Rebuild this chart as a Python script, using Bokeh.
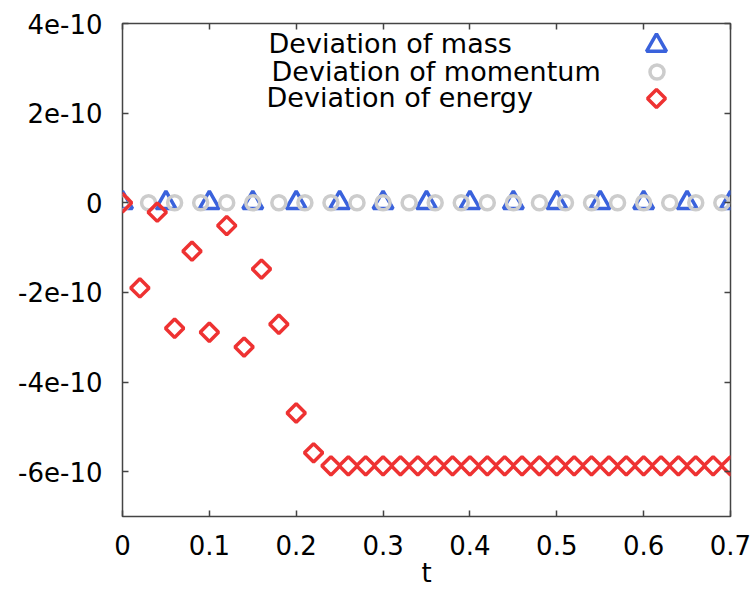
import math
from bokeh.plotting import figure
from bokeh.models import (FixedTicker, LinearAxis, Label, Legend, LegendItem,
                          CustomJSTickFormatter, Range1d, ColumnDataSource,
                          PolyAnnotation)
from bokeh.embed import file_html
from bokeh.resources import INLINE

# ---- data ----
t_mass = [0.0, 0.05, 0.10, 0.15, 0.20, 0.25, 0.30, 0.35, 0.40, 0.45, 0.50,
          0.55, 0.60, 0.65, 0.70]
dev_mass = [0.0, 0.0, 0.0, 0.0, 0.0, 0.0, 0.0, 0.0, 0.0, 0.0,
            0.0, 0.0, 0.0, 0.0, 0.0]

t_mom = [0.0, 0.03, 0.06, 0.09, 0.12, 0.15, 0.18, 0.21, 0.24, 0.27, 0.30,
         0.33, 0.36, 0.39, 0.42, 0.45, 0.48, 0.51, 0.54, 0.57, 0.60, 0.63,
         0.66, 0.69]
dev_mom = [0.0, 0.0, 0.0, 0.0, 0.0, 0.0, 0.0, 0.0, 0.0, 0.0, 0.0, 0.0,
           0.0, 0.0, 0.0, 0.0, 0.0, 0.0, 0.0, 0.0, 0.0, 0.0, 0.0, 0.0]

t_energy = [0.00, 0.02, 0.04, 0.06, 0.08, 0.10, 0.12, 0.14, 0.16, 0.18,
            0.20, 0.22, 0.24, 0.26, 0.28, 0.30, 0.32, 0.34, 0.36, 0.38,
            0.40, 0.42, 0.44, 0.46, 0.48, 0.50, 0.52, 0.54, 0.56, 0.58,
            0.60, 0.62, 0.64, 0.66, 0.68, 0.70]
dev_energy = [0.0, -1.90e-10, -0.21e-10, -2.80e-10, -1.08e-10, -2.89e-10,
              -0.51e-10, -3.22e-10, -1.48e-10, -2.71e-10, -4.69e-10,
              -5.58e-10, -5.87e-10, -5.87e-10, -5.87e-10, -5.87e-10,
              -5.87e-10, -5.87e-10, -5.87e-10, -5.87e-10, -5.87e-10,
              -5.87e-10, -5.87e-10, -5.87e-10, -5.87e-10, -5.87e-10,
              -5.87e-10, -5.87e-10, -5.87e-10, -5.87e-10, -5.87e-10,
              -5.87e-10, -5.87e-10, -5.87e-10, -5.87e-10, -5.87e-10]

x_ticks = [0.0, 0.1, 0.2, 0.3, 0.4, 0.5, 0.6, 0.7]
y_ticks = [-6e-10, -4e-10, -2e-10, 0.0, 2e-10, 4e-10]

series_labels = ["Deviation of mass", "Deviation of momentum", "Deviation of energy"]

FONT = "DejaVu Sans"
BORDER = "#444444"
C_MASS = "#3a62dc"
C_MOM = "#cccccc"
C_EN = "#ee3232"

p = figure(width=755, height=595,
           x_range=Range1d(0, 0.7), y_range=Range1d(-7e-10, 4e-10),
           output_backend="svg", toolbar_location=None,
           min_border_left=122, min_border_right=25,
           min_border_top=23, min_border_bottom=79)
p.xgrid.visible = False
p.ygrid.visible = False
p.outline_line_color = BORDER
p.outline_line_width = 1.5
p.background_fill_color = "white"
p.border_fill_color = "white"

xf = CustomJSTickFormatter(code="return tick == 0 ? '0' : tick.toFixed(1);")
yf = CustomJSTickFormatter(code="if (Math.abs(tick) < 1e-15) return '0'; return Math.round(tick*1e10) + 'e-10';")

for ax, tk, fm in ((p.xaxis[0], x_ticks, xf), (p.yaxis[0], y_ticks, yf)):
    ax.ticker = FixedTicker(ticks=tk)
    ax.formatter = fm
    ax.axis_line_color = None
    ax.major_tick_in = 6
    ax.major_tick_out = 0
    ax.major_tick_line_color = BORDER
    ax.major_tick_line_width = 1.5
    ax.minor_tick_line_color = None
    ax.major_label_text_font = FONT
    ax.major_label_text_font_size = "26px"
    ax.major_label_text_color = "black"

p.xaxis.major_label_standoff = 18
p.yaxis.major_label_standoff = 20
p.xaxis.axis_label = "t"
p.xaxis.axis_label_text_font = FONT
p.xaxis.axis_label_text_font_size = "26px"
p.xaxis.axis_label_text_font_style = "normal"
p.xaxis.axis_label_text_color = "black"
p.xaxis.axis_label_standoff = 0

# mirror ticks (top / right)
empty = CustomJSTickFormatter(code="return '';")
for tk, side in ((x_ticks, "above"), (y_ticks, "right")):
    a = LinearAxis(ticker=FixedTicker(ticks=tk), formatter=empty,
                   axis_line_color=None, major_tick_in=6, major_tick_out=0,
                   major_tick_line_color=BORDER, major_tick_line_width=1.5,
                   minor_tick_line_color=None, major_label_text_font_size="1px",
                   major_label_standoff=0)
    p.add_layout(a, side)

src_mass = ColumnDataSource(dict(t=t_mass, d=dev_mass))
src_mom = ColumnDataSource(dict(t=t_mom, d=dev_mom))
src_en = ColumnDataSource(dict(t=t_energy, d=dev_energy))

r_mass = p.scatter("t", "d", source=src_mass, marker="triangle", size=20,
                   fill_color=None, line_color=C_MASS, line_width=3.5)
r_mom = p.scatter("t", "d", source=src_mom, marker="circle", size=14,
                  fill_color=None, line_color=C_MOM, line_width=3.5)
r_en = p.scatter("t", "d", source=src_en, marker="square", size=13,
                 angle=math.pi / 4, fill_color=None, line_color=C_EN,
                 line_width=3.5)

# key: text on the left, symbol on the right (gnuplot style)
key_text_pos = [(146, 473), (149, 445), (144, 419)]
for lab, (kx, ky) in zip(series_labels, key_text_pos):
    p.add_layout(Label(x=kx, y=ky, x_units="screen", y_units="screen",
                       text=lab, text_font=FONT, text_font_size="27px",
                       text_color="black", text_align="left",
                       text_baseline="alphabetic"))

for rend, gsz, loc in ((r_mass, 50, (509, 446)), (r_mom, 35, (516.5, 427.5))):
    leg = Legend(items=[LegendItem(label=" ", renderers=[rend])],
                 location=loc, glyph_width=gsz, glyph_height=gsz,
                 padding=0, spacing=0, margin=0, label_standoff=0,
                 label_width=0, label_height=0, label_text_font_size="1px",
                 border_line_color=None, background_fill_alpha=0)
    p.add_layout(leg)

# diamond key symbol (legend glyphs are never rotated, so draw it as a polygon)
cx, cy, hd = 534, 418, 9
p.add_layout(PolyAnnotation(xs=[cx, cx + hd, cx, cx - hd],
                            ys=[cy + hd, cy, cy - hd, cy],
                            xs_units="screen", ys_units="screen",
                            fill_color=None, fill_alpha=0,
                            line_color=C_EN, line_alpha=1.0, line_width=3.5))

open("out.html", "w").write(file_html(p, INLINE))
